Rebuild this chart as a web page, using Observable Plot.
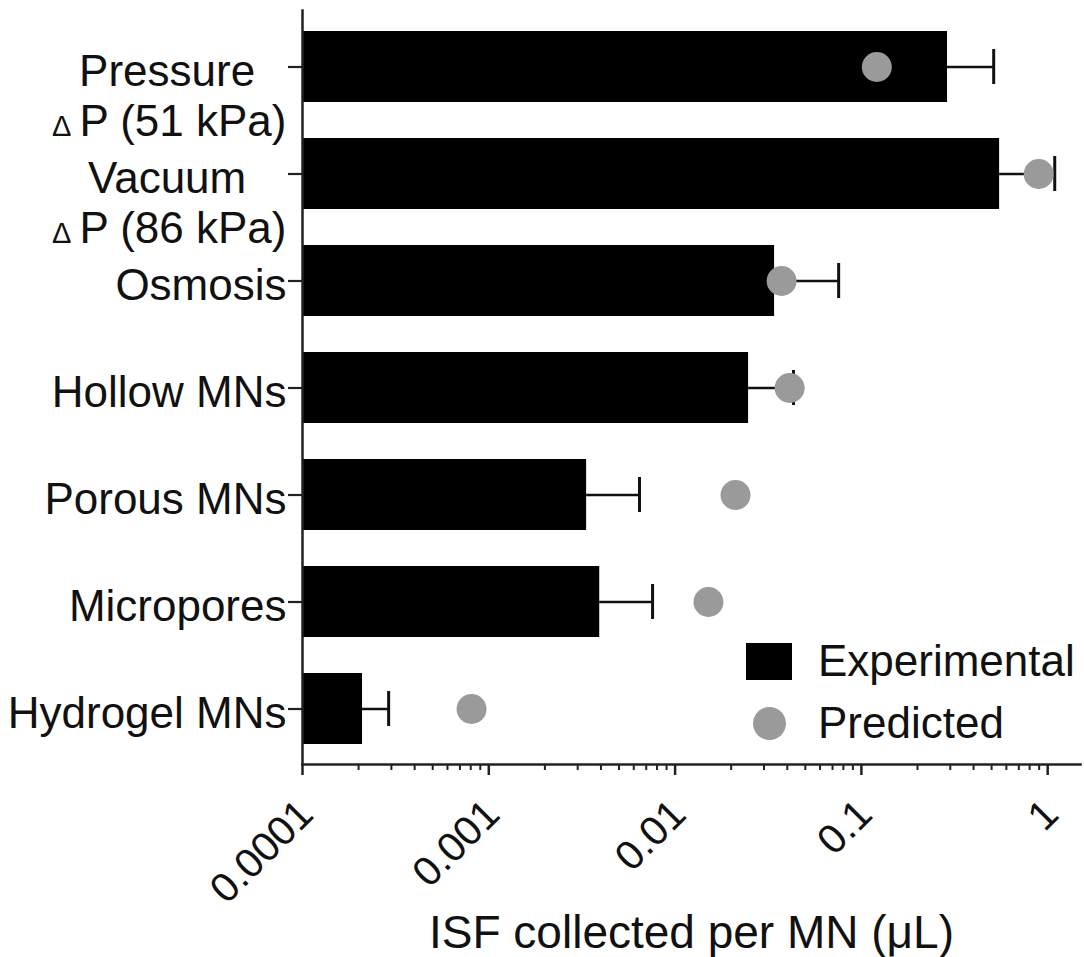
<!DOCTYPE html>
<html><head><meta charset="utf-8">
<script src="https://cdn.jsdelivr.net/npm/d3@7"></script>
<script src="https://cdn.jsdelivr.net/npm/@observablehq/plot@0.6"></script>
<style>
body{margin:0;background:#fff;font-family:"Liberation Sans",Arial,sans-serif;}
#wrap{position:relative;width:1084px;height:957px;overflow:hidden}
#legend{position:absolute;left:746px;top:630px;font-size:44px;color:#111}
.item{display:flex;align-items:center;height:62px;white-space:nowrap}
.sw{width:46px;display:flex;justify-content:center;margin-right:26px}
svg text{white-space:pre}
</style></head><body><div id="wrap"><div id="legend"></div></div>
<script>
const categories = ["Pressure \nΔP (51 kPa)", "Vacuum \nΔP (86 kPa)", "Osmosis", "Hollow MNs", "Porous MNs", "Micropores", "Hydrogel MNs"];
const experimental = [0.290, 0.552, 0.0342, 0.0248, 0.00335, 0.00394, 0.000210];
const errorUpper   = [0.513, 1.091, 0.0755, 0.0432, 0.00644, 0.00757, 0.000290];
const predicted    = [0.121, 0.895, 0.0373, 0.0412, 0.0211, 0.0151, 0.000808];
const majorTicks = [0.0001, 0.001, 0.01, 0.1, 1];
const tickLabels = ["0.0001", "0.001", "0.01", "0.1", "1"];
const xDomain = [0.0001, 1.5];
const xTitle = "ISF collected per MN (μL)";
const seriesNames = ["Experimental", "Predicted"];

const data = categories.map((c, i) => ({c, exp: experimental[i], err: errorUpper[i], pred: predicted[i]}));
const minorTicks = [];
for (const d of majorTicks.slice(0, -1)) for (let k = 2; k < 10; k++) minorTicks.push(d * k);

const font = '"Liberation Sans", Arial, sans-serif';
const chart = Plot.plot({
  width: 1084, height: 957,
  marginLeft: 302, marginRight: 4, marginTop: 10, marginBottom: 193,
  style: {fontFamily: font, background: "#fff", color: "#111", overflow: "visible"},
  x: {type: "log", domain: xDomain},
  y: {type: "band", domain: categories, paddingInner: 0.34, paddingOuter: 0.17},
  marks: [
    Plot.barX(data, {x1: () => xDomain[0], x2: "exp", y: "c", fill: "#000"}),
    Plot.ruleY(data, {x1: "exp", x2: "err", y: "c", stroke: "#111", strokeWidth: 2.5}),
    Plot.tickX(data, {x: "err", y: "c", stroke: "#111", strokeWidth: 3, insetTop: 18, insetBottom: 18}),
    Plot.dot(data, {x: "pred", y: "c", r: 15, fill: "#9a9a9a", stroke: "none"}),
    Plot.frame({anchor: "left", stroke: "#222", strokeWidth: 2.5}),
    Plot.frame({anchor: "bottom", stroke: "#222", strokeWidth: 2.5}),
    Plot.axisY({tickSize: 14, fill: "none", stroke: "#222", strokeWidth: 2.2}),
    Plot.axisX({ticks: majorTicks, tickSize: 11, fill: "none", stroke: "#222", strokeWidth: 2.5}),
    Plot.axisX({ticks: minorTicks, tickSize: 6, fill: "none", stroke: "#222", strokeWidth: 2}),
    Plot.text(majorTicks, {x: d => d, text: (d, i) => tickLabels[i], frameAnchor: "bottom", rotate: -45,
      textAnchor: "end", lineAnchor: "bottom", dx: 13, dy: 52, fontSize: 41, fill: "#111"}),
    Plot.text(categories, {y: d => d, text: d => d, frameAnchor: "left", textAnchor: "end", lineAnchor: "top",
      dx: -16, dy: -17, fontSize: 44, lineHeight: 1.14, fill: "#111"}),
    Plot.text([xTitle], {text: d => d, frameAnchor: "bottom", lineAnchor: "bottom", dy: 183, fontSize: 46, fill: "#111"})
  ]
});
const wrap = document.getElementById("wrap");
wrap.insertBefore(chart, wrap.firstChild);

// smaller, wider-set delta, and centre the lines of two-line labels
const ns = "http://www.w3.org/2000/svg";
chart.querySelectorAll("text").forEach(t => {
  const spans = Array.from(t.children).filter(n => n.tagName === "tspan");
  if (spans.length === 2) {
    spans.forEach(s => {
      if (s.textContent.startsWith("Δ")) {
        const rest = s.textContent.slice(1);
        s.textContent = "";
        const d = document.createElementNS(ns, "tspan");
        d.setAttribute("font-size", "0.66em");
        d.textContent = "Δ";
        const r = document.createElementNS(ns, "tspan");
        r.setAttribute("dx", "8");
        r.textContent = rest;
        s.appendChild(d);
        s.appendChild(r);
      }
    });
    const w = spans.map(s => s.getComputedTextLength());
    const m = Math.max(...w);
    spans.forEach((s, i) => s.setAttribute("x", -(m - w[i]) / 2));
  }
});

// legend
const legend = document.getElementById("legend");
seriesNames.forEach((name, i) => {
  const item = document.createElement("div"); item.className = "item";
  const sw = document.createElement("div"); sw.className = "sw";
  const mark = document.createElement("div");
  if (i === 0) { mark.style.cssText = "width:46px;height:37px;background:#000"; }
  else { mark.style.cssText = "width:33px;height:33px;border-radius:50%;background:#9a9a9a"; }
  sw.appendChild(mark);
  const lab = document.createElement("span"); lab.textContent = name;
  item.appendChild(sw); item.appendChild(lab);
  legend.appendChild(item);
});
</script></body></html>
